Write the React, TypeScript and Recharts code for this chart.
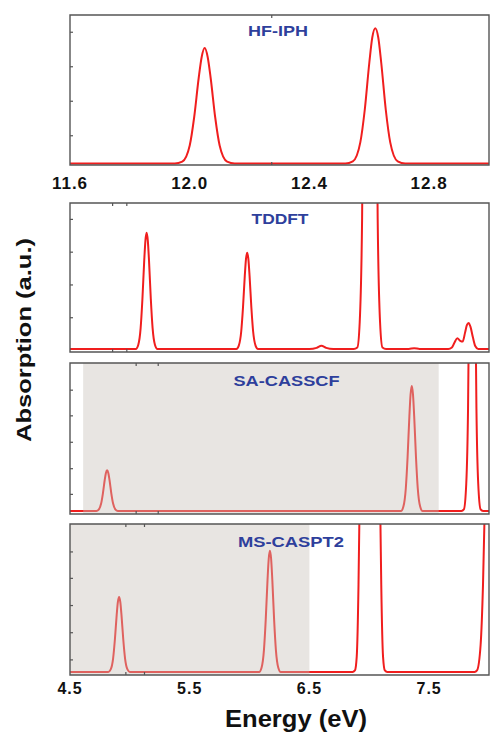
import React from "react";
import { LineChart, Line, XAxis, YAxis, ReferenceArea } from "recharts";

// HF-IPH panel (upper energy window)
const hfEnergy = [11.6, 11.95, 11.975, 12.0, 12.015, 12.03, 12.04, 12.05, 12.06, 12.07, 12.085, 12.1, 12.125, 12.15, 12.52, 12.545, 12.57, 12.585, 12.6, 12.61, 12.62, 12.63, 12.64, 12.655, 12.67, 12.695, 12.72, 13.0];
const hfAbs = [0.01, 0.01, 0.022, 0.13, 0.32, 0.58, 0.72, 0.78, 0.72, 0.58, 0.32, 0.13, 0.022, 0.01, 0.01, 0.024, 0.151, 0.37, 0.68, 0.85, 0.912, 0.85, 0.68, 0.37, 0.151, 0.024, 0.01, 0.01];

// TDDFT
const tdEnergy = [4.5, 5.05, 5.07, 5.09, 5.105, 5.12, 5.13, 5.14, 5.15, 5.16, 5.175, 5.19, 5.21, 5.23, 5.89, 5.91, 5.93, 5.945, 5.96, 5.97, 5.98, 5.99, 6.0, 6.015, 6.03, 6.05, 6.07, 6.5, 6.56, 6.6, 6.64, 6.7, 6.87, 6.9, 6.92, 6.94, 6.96, 7.005, 7.05, 7.07, 7.09, 7.11, 7.14, 7.33, 7.375, 7.42, 7.66, 7.69, 7.71, 7.735, 7.76, 7.78, 7.8, 7.815, 7.83, 7.845, 7.865, 7.885, 7.91, 8.0];
const tdAbs = [0.02, 0.02, 0.047, 0.16, 0.357, 0.613, 0.748, 0.8, 0.748, 0.613, 0.357, 0.16, 0.047, 0.02, 0.02, 0.043, 0.136, 0.299, 0.511, 0.623, 0.666, 0.623, 0.511, 0.299, 0.136, 0.043, 0.02, 0.02, 0.028, 0.042, 0.028, 0.02, 0.02, 0.03, 0.2, 0.9, 3, 6, 3, 0.9, 0.2, 0.03, 0.02, 0.02, 0.026, 0.02, 0.02, 0.03, 0.06, 0.092, 0.075, 0.07, 0.13, 0.18, 0.195, 0.17, 0.1, 0.04, 0.02, 0.02];

// SA-CASSCF
const casEnergy = [4.5, 4.72, 4.74, 4.76, 4.775, 4.79, 4.8, 4.81, 4.82, 4.83, 4.845, 4.86, 4.88, 4.9, 7.265, 7.285, 7.305, 7.32, 7.335, 7.345, 7.355, 7.365, 7.375, 7.39, 7.405, 7.425, 7.445, 7.77, 7.79, 7.81, 7.825, 7.84, 7.86, 7.88, 7.895, 7.91, 7.93, 7.95, 8.0];
const casAbs = [0.02, 0.02, 0.029, 0.069, 0.137, 0.225, 0.272, 0.29, 0.272, 0.225, 0.137, 0.069, 0.029, 0.02, 0.02, 0.049, 0.169, 0.378, 0.649, 0.793, 0.848, 0.793, 0.649, 0.378, 0.169, 0.049, 0.02, 0.02, 0.03, 0.2, 0.7, 2, 4, 2, 0.7, 0.2, 0.03, 0.02, 0.02];

// MS-CASPT2
const ptEnergy = [4.5, 4.82, 4.84, 4.86, 4.875, 4.89, 4.9, 4.91, 4.92, 4.93, 4.945, 4.96, 4.98, 5.0, 6.08, 6.1, 6.12, 6.135, 6.15, 6.16, 6.17, 6.18, 6.19, 6.205, 6.22, 6.24, 6.26, 6.86, 6.88, 6.895, 6.91, 6.92, 6.95, 7.0, 7.06, 7.09, 7.1, 7.115, 7.13, 7.15, 7.88, 7.9, 7.93, 7.95, 7.97, 8.0];
const ptAbs = [0.02, 0.02, 0.037, 0.109, 0.235, 0.398, 0.484, 0.517, 0.484, 0.398, 0.235, 0.109, 0.037, 0.02, 0.02, 0.048, 0.165, 0.367, 0.63, 0.77, 0.823, 0.77, 0.63, 0.367, 0.165, 0.048, 0.02, 0.02, 0.03, 0.12, 0.6, 1.2, 3, 5, 3, 1.2, 0.6, 0.12, 0.03, 0.02, 0.02, 0.03, 0.2, 0.6, 1.3, 3];

// axis ticks
const hfTicks = [11.6, 11.8, 12.0, 12.2, 12.4, 12.6, 12.8, 13.0];
const hfLabels = [11.6, 12.0, 12.4, 12.8];
const lowTicks = [4.5, 5.0, 5.5, 6.0, 6.5, 7.0, 7.5, 8.0];
const lowLabels = [4.5, 5.5, 6.5, 7.5];
const hfYTicks = [0.08, 0.195, 0.31, 0.425, 0.54, 0.655, 0.77, 0.885];
const tdYTicks = [0.12, 0.23, 0.34, 0.45, 0.56, 0.67, 0.78, 0.89];
const casYTicks = [0.13, 0.3, 0.475, 0.65, 0.82];
const ptYTicks = [0.1, 0.28, 0.46, 0.64, 0.815];

// shaded windows
const casShade = [4.61, 7.58];
const ptShade = [4.5, 6.5];

const FONT = '"Liberation Sans", Arial, sans-serif';
const FRAME = "#555";

const zip = (e: number[], a: number[]) => e.map((x, i) => ({ e: x, a: a[i] }));

// ticks without text, so only the little inward tick marks are drawn
const noLabel = () => <g />;

interface PanelProps {
  data: { e: number; a: number }[];
  domain: [number, number];
  ticks: number[];
  labels?: number[];
  labelSize?: number;
  labelMargin?: number;
  yTicks: number[];
  top: number;
  plotH: number;
  shade?: number[];
}

function Panel({ data, domain, ticks, labels, labelSize = 17, labelMargin = 12, yTicks, top, plotH, shade }: PanelProps) {
  const hasLabels = !!labels;
  const height = 2 + plotH + (hasLabels ? 30 : 2);
  const tickLine = { stroke: FRAME, strokeWidth: 1.2 };
  return (
    <div style={{ position: "absolute", left: 0, top: top - 2 }}>
      <LineChart
        width={490}
        height={height}
        data={data}
        margin={{ top: 2, right: 1, left: 70, bottom: hasLabels ? 0 : 2 }}
      >
        <XAxis
          dataKey="e"
          type="number"
          domain={domain}
          allowDataOverflow
          ticks={labels ?? ticks}
          hide={!hasLabels}
          height={hasLabels ? 30 : 0}
          axisLine={false}
          tickLine={false}
          tickSize={0}
          tickMargin={labelMargin}
          tickFormatter={(v: number) => v.toFixed(1)}
          tick={{ fontSize: labelSize, fontWeight: 700, fill: "#111", fontFamily: FONT, letterSpacing: 1 }}
        />
        <XAxis xAxisId="bt" type="number" domain={domain} ticks={ticks} mirror height={1} tick={noLabel} tickSize={3} axisLine={false} tickLine={tickLine} />
        <XAxis xAxisId="tp" orientation="top" type="number" domain={domain} ticks={ticks} mirror height={1} tick={noLabel} tickSize={3} axisLine={false} tickLine={tickLine} />
        <YAxis type="number" domain={[0, 1]} allowDataOverflow ticks={yTicks} mirror width={1} tick={noLabel} tickSize={3} axisLine={false} tickLine={tickLine} />
        <YAxis yAxisId="rt" orientation="right" type="number" domain={[0, 1]} ticks={yTicks} mirror width={1} tick={noLabel} tickSize={3} axisLine={false} tickLine={tickLine} />
        <Line
          type="monotone"
          dataKey="a"
          stroke="#f01e1e"
          strokeWidth={2}
          dot={false}
          activeDot={false}
          isAnimationActive={false}
        />
        {shade && (
          <ReferenceArea
            x1={shade[0]}
            x2={shade[1]}
            fill="#c8c2ba"
            fillOpacity={0.42}
            stroke="none"
            zIndex={450}
          />
        )}
        <ReferenceArea
          x1={domain[0]}
          x2={domain[1]}
          y1={0}
          y2={1}
          fill="none"
          stroke={FRAME}
          strokeWidth={1.4}
          zIndex={460}
        />
      </LineChart>
    </div>
  );
}

export default function App() {
  const title = { fontFamily: FONT, fontWeight: 700, fontSize: 14.5, fill: "#2e3f9c" };
  return (
    <div style={{ position: "absolute", left: 0, top: 0, width: 490, height: 734, background: "#fff", fontFamily: FONT }}>
      <Panel data={zip(hfEnergy, hfAbs)} domain={[11.6, 13.0]} ticks={hfTicks} labels={hfLabels} labelSize={17} labelMargin={12} yTicks={hfYTicks} top={15} plotH={150} />
      <Panel data={zip(tdEnergy, tdAbs)} domain={[4.5, 8.0]} ticks={lowTicks} yTicks={tdYTicks} top={203} plotH={149} />
      <Panel data={zip(casEnergy, casAbs)} domain={[4.5, 8.0]} ticks={lowTicks} yTicks={casYTicks} top={363} plotH={151} shade={casShade} />
      <Panel data={zip(ptEnergy, ptAbs)} domain={[4.5, 8.0]} ticks={lowTicks} labels={lowLabels} labelSize={16} labelMargin={8} yTicks={ptYTicks} top={524} plotH={151} shade={ptShade} />
      <svg width={490} height={734} style={{ position: "absolute", left: 0, top: 0, pointerEvents: "none" }}>
        <text x={278} y={35.5} textAnchor="middle" textLength={60} lengthAdjust="spacingAndGlyphs" {...title}>HF-IPH</text>
        <text x={280} y={224} textAnchor="middle" textLength={57} lengthAdjust="spacingAndGlyphs" {...title}>TDDFT</text>
        <text x={286.5} y={385.5} textAnchor="middle" textLength={106} lengthAdjust="spacingAndGlyphs" {...title}>SA-CASSCF</text>
        <text x={291} y={546.5} textAnchor="middle" textLength={106} lengthAdjust="spacingAndGlyphs" {...title}>MS-CASPT2</text>
        <text x={296} y={727} textAnchor="middle" textLength={142} lengthAdjust="spacingAndGlyphs" fontFamily={FONT} fontWeight={700} fontSize={23} fill="#111">Energy (eV)</text>
        <text x={31} y={340} transform="rotate(-90 31 340)" textAnchor="middle" textLength={204} lengthAdjust="spacingAndGlyphs" fontFamily={FONT} fontWeight={700} fontSize={20} fill="#111">Absorption (a.u.)</text>
      </svg>
    </div>
  );
}
